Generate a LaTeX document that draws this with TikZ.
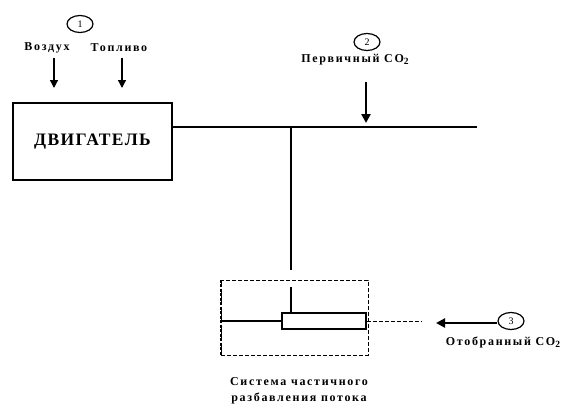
\documentclass[tikz,border=0pt]{standalone}
\usepackage{fontspec}
\setmainfont{Liberation Serif}
\newfontfamily\lblfont[LetterSpace=14]{Liberation Serif}
\newfontfamily\bigfont[LetterSpace=8]{Liberation Serif}
\usetikzlibrary{arrows.meta,shapes.geometric}
\newcommand{\subtwo}{\raisebox{-2pt}{\fontsize{9.5}{10}\selectfont 2}}
\begin{document}
\begin{tikzpicture}[x=1pt,y=-1pt,
  lbl/.style={font=\lblfont\bfseries\fontsize{12}{13}\selectfont, inner sep=0pt},
  num/.style={draw, ellipse, line width=1.2pt, minimum width=26pt, minimum height=17pt, inner sep=0pt, font=\fontsize{10}{11}\selectfont},
  thinarr/.style={line width=1.4pt, -{Triangle[length=8pt,width=8pt]}},
  thickarr/.style={line width=2.5pt, -{Triangle[length=9pt,width=9pt]}},
  pipe/.style={line width=1.3pt},
  dsh/.style={dash pattern=on 4pt off 2pt, line width=0.8pt},
  ]
\useasboundingbox (0,0) rectangle (567,410);
% engine
\node[draw, line width=1.2pt, minimum width=159pt, minimum height=77pt, inner sep=0pt,
  font=\bigfont\bfseries\fontsize{17.5}{19}\selectfont] (engine) at (92.5,141.5) {ДВИГАТЕЛЬ};
% inputs
\node[num] (c1) at (80,24) {1};
\node[lbl] (air) at (47,48) {Воздух};
\node[lbl] (fuel) at (119,48) {Топливо};
\coordinate (a1s) at (54,58); \coordinate (a1e) at (54,88);
\coordinate (f1s) at (122,58); \coordinate (f1e) at (122,88);
\draw[thinarr] (a1s) -- (a1e);
\draw[thinarr] (f1s) -- (f1e);
% exhaust pipe
\coordinate (p0) at (172,127);
\coordinate (j) at (291,127);
\coordinate (p1) at (477,127);
\draw[pipe] (p0) -- (p1);
\coordinate (v1) at (291,270);
\draw[pipe] (j) -- (v1);
% primary CO2
\node[num] (c2) at (367,42) {2};
\node[lbl] (prim) at (355,60) {Первичный CO\subtwo};
\coordinate (p2s) at (366,82); \coordinate (p2e) at (366,123);
\draw[thickarr] (p2s) -- (p2e);
% dilution system
\node[draw, dsh, minimum width=147pt, minimum height=75pt, inner sep=0pt] (dbox) at (294.5,317.5) {};
\draw[dash pattern=on 3pt off 1.5pt, line width=1.8pt] (dbox.north west) -- (dbox.south west);
\node[draw, line width=1.6pt, minimum width=84pt, minimum height=16pt, inner sep=0pt] (tube) at (324,321) {};
\coordinate (v2) at (291,287);
\draw[pipe] (v2) -- (v2 |- tube.north);
\draw[pipe] (dbox.west |- tube.west) -- (tube.west);
\coordinate (dend) at (422,321);
\draw[dsh] (tube.east) -- (dend);
% selected CO2
\node[num] (c3) at (511,321) {3};
\node[lbl] (sel) at (503,342) {Отобранный CO\subtwo};
\coordinate (s3e) at (436,323);
\draw[thickarr] (c3.west |- s3e) -- (s3e);
% caption
\node[lbl, align=center, font=\lblfont\bfseries\fontsize{12}{16}\selectfont] (cap) at (299,391) {Система частичного\\разбавления потока};
\end{tikzpicture}
\end{document}
